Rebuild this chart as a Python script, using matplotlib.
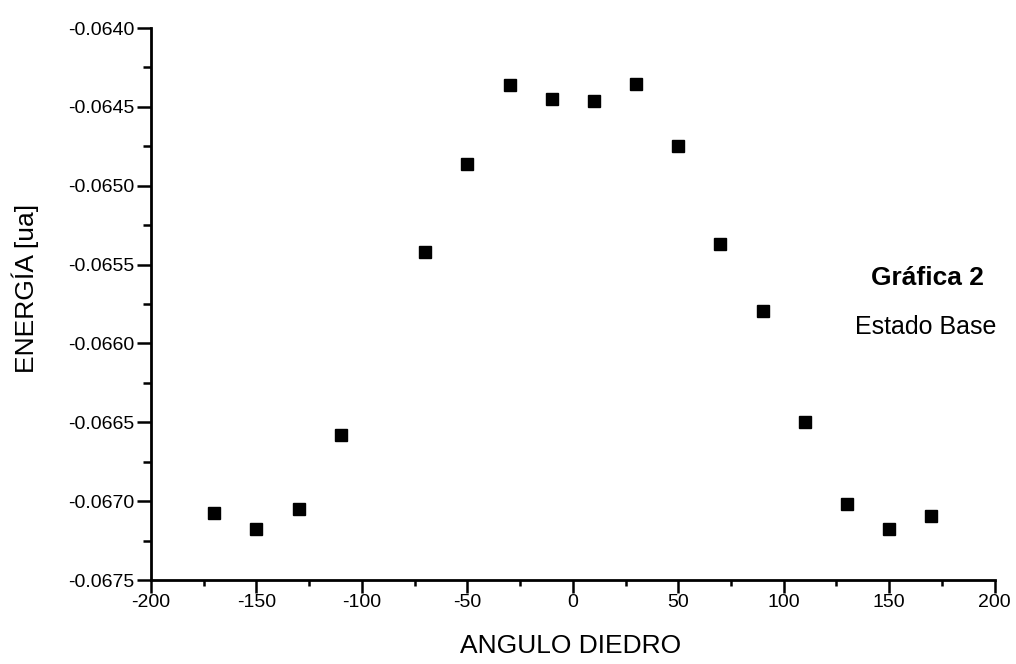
import matplotlib
matplotlib.use('Agg')
import matplotlib.pyplot as plt
from matplotlib.ticker import MultipleLocator, FormatStrFormatter

plt.rcParams['font.family'] = ['Liberation Sans', 'DejaVu Sans']
plt.rcParams['axes.unicode_minus'] = False

# Data
angulo = [-170, -150, -130, -110, -70, -50, -30, -10, 10, 30, 50, 70, 90, 110, 130, 150, 170]
energia = [-0.067073, -0.067179, -0.067052, -0.066581, -0.065420, -0.064862, -0.064361,
           -0.064450, -0.064463, -0.064355, -0.064751, -0.065371, -0.065793, -0.066500,
           -0.067018, -0.067179, -0.067094]

fig = plt.figure(figsize=(10.16, 6.64), dpi=100)
ax = fig.add_axes([0.1486, 0.1265, 0.8304, 0.8313])

ax.plot(angulo, energia, linestyle='none', marker='s', markersize=8.5,
        color='black', markeredgecolor='black')

ax.set_xlim(-200, 200)
ax.set_ylim(-0.0675, -0.0640)
ax.xaxis.set_major_locator(MultipleLocator(50))
ax.xaxis.set_minor_locator(MultipleLocator(25))
ax.yaxis.set_major_locator(MultipleLocator(0.0005))
ax.yaxis.set_minor_locator(MultipleLocator(0.00025))
ax.yaxis.set_major_formatter(FormatStrFormatter('%.4f'))

for s in ['top', 'right']:
    ax.spines[s].set_visible(False)
for s in ['left', 'bottom']:
    ax.spines[s].set_linewidth(2)

ax.tick_params(axis='y', which='major', direction='out', length=10, width=1.8, labelsize=14, pad=2)
ax.tick_params(axis='y', which='minor', direction='out', length=6, width=1.8)
ax.tick_params(axis='x', which='major', direction='out', length=9, width=1.8, labelsize=14, pad=1)
ax.tick_params(axis='x', which='minor', direction='out', length=4.5, width=1.8)

ax.set_xlabel('ANGULO DIEDRO', fontsize=19)
ax.xaxis.label.set_va('center')
ax.xaxis.set_label_coords((571 - 151) / 844, (580 - 646) / 552)
ax.set_ylabel('ENERGÍA [ua]', fontsize=19)
ax.yaxis.label.set_va('center')
ax.yaxis.set_label_coords((25 - 151) / 844, (580 - 288) / 552)

fig.text(927 / 1016, 1 - 278 / 664, 'Gráfica 2', ha='center', va='center',
         fontsize=19, fontweight='bold')
fig.text(926 / 1016, 1 - 327 / 664, 'Estado Base', ha='center', va='center',
         fontsize=18)

fig.savefig('out.png', dpi=100)
